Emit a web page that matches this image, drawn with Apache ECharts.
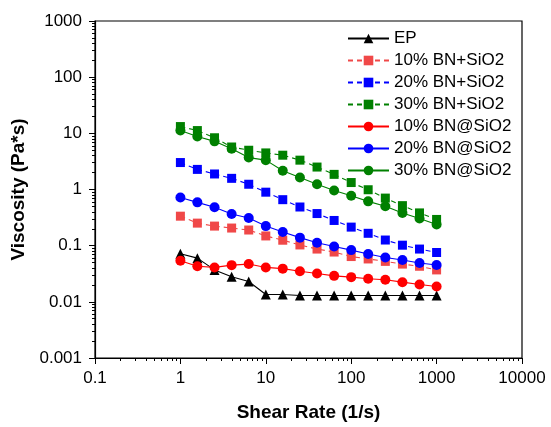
<!DOCTYPE html>
<html>
<head>
<meta charset="utf-8">
<script src="https://cdn.jsdelivr.net/npm/echarts@6/dist/echarts.min.js"></script>
<style>
  html, body { margin: 0; padding: 0; background: #fff; }
  #main { width: 551px; height: 427px; }
</style>
</head>
<body>
<div id="main"></div>
<script>
// shear rate (1/s)
const shearRate = [1, 1.58, 2.51, 3.98, 6.31, 10, 15.8, 25.1, 39.8, 63.1, 100, 158, 251, 398, 631, 1000]

// viscosity (Pa*s)
const ep = [0.072, 0.06, 0.037, 0.028, 0.023, 0.0135, 0.0135, 0.013, 0.013, 0.013, 0.013, 0.013, 0.013, 0.013, 0.013, 0.013]
const bnSiO2_10 = [0.335, 0.252, 0.223, 0.206, 0.19, 0.149, 0.125, 0.103, 0.087, 0.077, 0.064, 0.058, 0.0525, 0.047, 0.043, 0.037]
const bnSiO2_20 = [3.02, 2.28, 1.89, 1.58, 1.24, 0.896, 0.659, 0.488, 0.373, 0.281, 0.214, 0.166, 0.126, 0.102, 0.087, 0.0756]
const bnSiO2_30 = [13.2, 11.2, 8.34, 5.71, 5.0, 4.48, 4.08, 3.33, 2.51, 1.86, 1.33, 0.99, 0.703, 0.516, 0.383, 0.293]
const bnAtSiO2_10 = [0.054, 0.043, 0.041, 0.045, 0.047, 0.041, 0.039, 0.035, 0.032, 0.029, 0.0275, 0.0257, 0.0247, 0.0224, 0.0204, 0.0188]
const bnAtSiO2_20 = [0.723, 0.59, 0.482, 0.367, 0.312, 0.223, 0.175, 0.139, 0.113, 0.0964, 0.0833, 0.0709, 0.0617, 0.0556, 0.0492, 0.0454]
const bnAtSiO2_30 = [11.2, 8.81, 7.2, 5.33, 3.7, 3.33, 2.16, 1.63, 1.24, 0.96, 0.775, 0.615, 0.502, 0.383, 0.305, 0.239]

// decades used for tick labels
const xDecades = [0.1, 1, 10, 100, 1000, 10000]
const yDecades = [0.001, 0.01, 0.1, 1, 10, 100, 1000]

// minor ticks at 2..9 of each decade
const minorsOf = (decs) => {
  const out = []
  for (let i = 0; i < decs.length - 1; i++) {
    for (let k = 2; k <= 9; k++) out.push(+(decs[i] * k).toPrecision(3))
  }
  return out
}

const pairs = (ys) => shearRate.map((x, i) => [x, ys[i]])

const mkSeries = (name, ys, color, symbol, dashed, size) => ({
  name: name,
  type: "line",
  data: pairs(ys),
  symbol: symbol,
  symbolSize: size,
  itemStyle: { color: color },
  lineStyle: { color: color, width: 1.1, type: dashed ? [5, 4] : "solid" },
  emphasis: { disabled: true },
  z: 3
})

const chart = echarts.init(document.getElementById("main"))
const font = "Liberation Sans, Arial, sans-serif"
const fmt = (v) => String(parseFloat(Number(v).toPrecision(3)))

chart.setOption({
  animation: false,
  textStyle: { fontFamily: font },
  grid: {
    left: 95, right: 29, top: 21, bottom: 62,
    show: true, borderColor: "#000", borderWidth: 1.2, backgroundColor: "transparent"
  },
  legend: {
    orient: "vertical",
    left: 342,
    top: 25,
    itemWidth: 41,
    itemHeight: 12,
    itemGap: 5,
    textStyle: { fontSize: 17, color: "#000", fontFamily: font, lineHeight: 16 },
    data: ["EP", "10% BN+SiO2", "20% BN+SiO2", "30% BN+SiO2", "10% BN@SiO2", "20% BN@SiO2", "30% BN@SiO2"]
  },
  xAxis: [
    {
      type: "log",
      logBase: 10,
      min: 0.1,
      max: 10000,
      name: "Shear Rate (1/s)",
      nameLocation: "middle",
      nameGap: 45,
      nameTextStyle: { fontSize: 19, fontWeight: "bold", color: "#000", fontFamily: font },
      axisLine: { lineStyle: { color: "#000", width: 1.2 } },
      axisTick: { show: true, inside: false, length: 6, lineStyle: { color: "#000" }, customValues: xDecades },
      axisLabel: { fontSize: 17, color: "#000", margin: 12, fontFamily: font, formatter: fmt, customValues: xDecades },
      splitLine: { show: false }
    },
    {
      type: "log",
      logBase: 10,
      min: 0.1,
      max: 10000,
      position: "bottom",
      axisLine: { show: false },
      axisTick: { show: true, inside: false, length: 3, lineStyle: { color: "#000" }, customValues: minorsOf(xDecades) },
      axisLabel: { show: false },
      splitLine: { show: false }
    }
  ],
  yAxis: [
    {
      type: "log",
      logBase: 10,
      min: 0.001,
      max: 1000,
      name: "Viscosity (Pa*s)",
      nameLocation: "middle",
      nameGap: 58,
      nameTextStyle: { fontSize: 19, fontWeight: "bold", color: "#000", fontFamily: font },
      axisLine: { lineStyle: { color: "#000", width: 1.2 } },
      axisTick: { show: true, inside: false, length: 6, lineStyle: { color: "#000" }, customValues: yDecades },
      axisLabel: { fontSize: 17, color: "#000", margin: 13, fontFamily: font, formatter: fmt, customValues: yDecades },
      splitLine: { show: false }
    },
    {
      type: "log",
      logBase: 10,
      min: 0.001,
      max: 1000,
      position: "left",
      axisLine: { show: false },
      axisTick: { show: true, inside: false, length: 3, lineStyle: { color: "#000" }, customValues: minorsOf(yDecades) },
      axisLabel: { show: false },
      splitLine: { show: false }
    }
  ],
  series: [
    mkSeries("EP", ep, "#000000", "triangle", false, 10),
    mkSeries("10% BN+SiO2", bnSiO2_10, "#f04848", "rect", true, 9),
    mkSeries("20% BN+SiO2", bnSiO2_20, "#0000ff", "rect", true, 9),
    mkSeries("30% BN+SiO2", bnSiO2_30, "#008000", "rect", true, 9),
    mkSeries("10% BN@SiO2", bnAtSiO2_10, "#ff0000", "circle", false, 10),
    mkSeries("20% BN@SiO2", bnAtSiO2_20, "#0000ff", "circle", false, 10),
    mkSeries("30% BN@SiO2", bnAtSiO2_30, "#008000", "circle", false, 10)
  ]
})
</script>
</body>
</html>
